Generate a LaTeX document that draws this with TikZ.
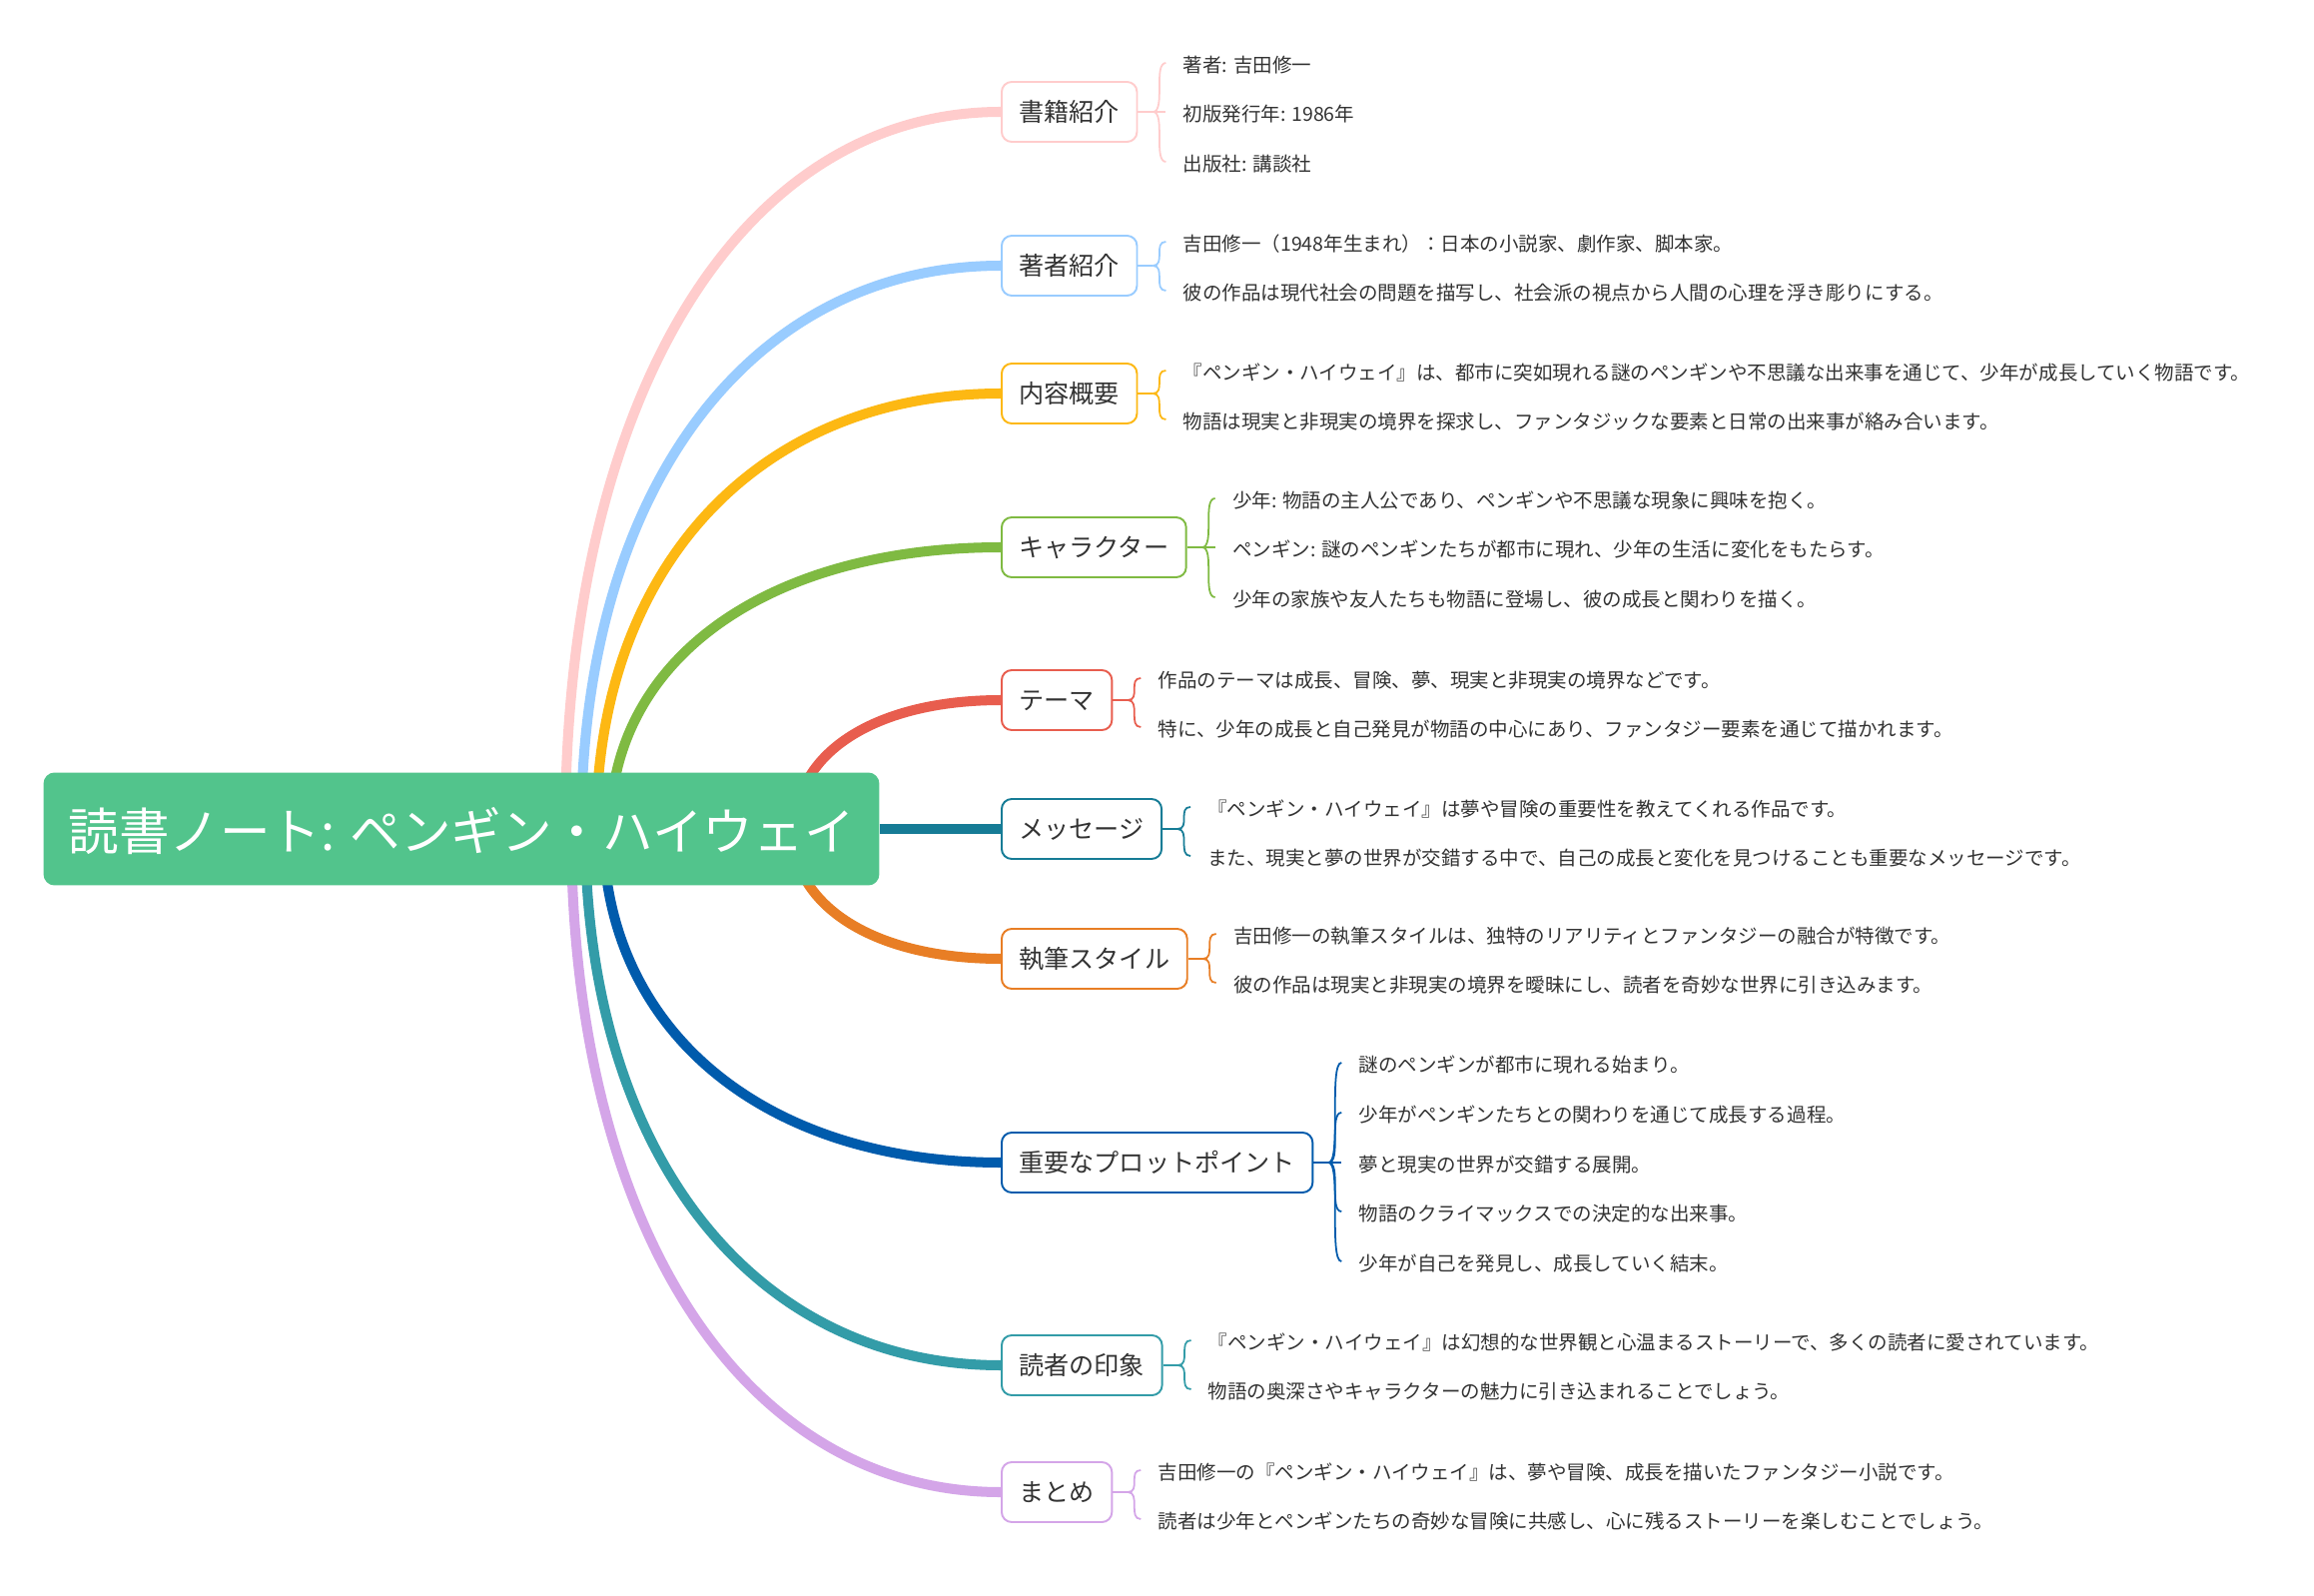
\documentclass[tikz,border=0pt]{standalone}
\usepackage{fontspec}
\setmainfont{Noto Sans CJK JP}
\usepackage{tikz}
\usetikzlibrary{calc, backgrounds}

\definecolor{rootc}{HTML}{52C48C}
\definecolor{txt}{HTML}{333333}
\definecolor{pinkc}{HTML}{FFCCCC}
\definecolor{skyc}{HTML}{99CCFF}
\definecolor{goldc}{HTML}{FDB813}
\definecolor{leafc}{HTML}{7FBA42}
\definecolor{redc}{HTML}{E85D4E}
\definecolor{tealc}{HTML}{167C96}
\definecolor{orangec}{HTML}{E87E25}
\definecolor{navyc}{HTML}{005BAC}
\definecolor{cyanc}{HTML}{339CA8}
\definecolor{lilacc}{HTML}{D4A5E8}

\begin{document}
\begin{tikzpicture}[x=0.02cm, y=-0.02cm,
  root/.style={rectangle, fill=rootc, rounded corners=0.22cm, minimum width=16.74cm, minimum height=2.26cm, text=white, font=\fontsize{28.8}{32}\selectfont, text height=24.4pt, text depth=0pt},
  topic/.style={rectangle, draw=#1, line width=1.1pt, fill=white, rounded corners=0.2cm, anchor=west, minimum height=1.2cm, inner xsep=0.35cm, text=txt, font=\fontsize{14.3}{16}\selectfont, text height=11pt, text depth=0pt},
  leaf/.style={anchor=west, inner xsep=0.34cm, inner ysep=0pt, text=txt, font=\fontsize{11.1}{13}\selectfont, text height=11pt, text depth=0pt},
  branch/.style={line width=5.7pt, draw=#1},
  arm/.style={line width=1pt, draw=#1}
]
\useasboundingbox (0,0) rectangle (2317,1598);
\node[root] (root) at (462,830) {読書ノート: ペンギン・ハイウェイ};
\foreach \i/\y/\c/\t in {1/112/pinkc/書籍紹介, 2/266/skyc/著者紹介, 3/394/goldc/内容概要, 4/548/leafc/キャラクター, 5/701/redc/テーマ, 6/830/tealc/メッセージ, 7/960/orangec/執筆スタイル, 8/1164/navyc/重要なプロットポイント, 9/1367/cyanc/読者の印象, 10/1494/lilacc/まとめ} {
  \node[topic=\c] (c\i) at (1002,\y) {\t};
  \coordinate (j\i) at ([xshift=0.3cm]c\i.east);
  \draw[arm=\c] (c\i.east) -- (j\i);
}

% leaves
\foreach \n/\y/\t in {1/63/著者: 吉田修一, 2/112/初版発行年: 1986年, 3/162/出版社: 講談社} {
  \node[leaf, xshift=0.26cm] (l1\n) at (j1 |- 0,\y) {\t};
  \draw[arm=pinkc] (j1) .. controls +(13,0) and +(-13,0) .. (l1\n.west);
}
\foreach \n/\y/\t in {1/242/吉田修一（1948年生まれ）：日本の小説家、劇作家、脚本家。, 2/291/彼の作品は現代社会の問題を描写し、社会派の視点から人間の心理を浮き彫りにする。} {
  \node[leaf, xshift=0.26cm] (l2\n) at (j2 |- 0,\y) {\t};
  \draw[arm=skyc] (j2) .. controls +(13,0) and +(-13,0) .. (l2\n.west);
}
\foreach \n/\y/\t in {1/371/『ペンギン・ハイウェイ』は、都市に突如現れる謎のペンギンや不思議な出来事を通じて、少年が成長していく物語です。, 2/420/物語は現実と非現実の境界を探求し、ファンタジックな要素と日常の出来事が絡み合います。} {
  \node[leaf, xshift=0.26cm] (l3\n) at (j3 |- 0,\y) {\t};
  \draw[arm=goldc] (j3) .. controls +(13,0) and +(-13,0) .. (l3\n.west);
}
\foreach \n/\y/\t in {1/499/少年: 物語の主人公であり、ペンギンや不思議な現象に興味を抱く。, 2/548/ペンギン: 謎のペンギンたちが都市に現れ、少年の生活に変化をもたらす。, 3/598/少年の家族や友人たちも物語に登場し、彼の成長と関わりを描く。} {
  \node[leaf, xshift=0.26cm] (l4\n) at (j4 |- 0,\y) {\t};
  \draw[arm=leafc] (j4) .. controls +(13,0) and +(-13,0) .. (l4\n.west);
}
\foreach \n/\y/\t in {1/679/作品のテーマは成長、冒険、夢、現実と非現実の境界などです。, 2/728/特に、少年の成長と自己発見が物語の中心にあり、ファンタジー要素を通じて描かれます。} {
  \node[leaf, xshift=0.26cm] (l5\n) at (j5 |- 0,\y) {\t};
  \draw[arm=redc] (j5) .. controls +(13,0) and +(-13,0) .. (l5\n.west);
}
\foreach \n/\y/\t in {1/808/『ペンギン・ハイウェイ』は夢や冒険の重要性を教えてくれる作品です。, 2/857/また、現実と夢の世界が交錯する中で、自己の成長と変化を見つけることも重要なメッセージです。} {
  \node[leaf, xshift=0.26cm] (l6\n) at (j6 |- 0,\y) {\t};
  \draw[arm=tealc] (j6) .. controls +(13,0) and +(-13,0) .. (l6\n.west);
}
\foreach \n/\y/\t in {1/935/吉田修一の執筆スタイルは、独特のリアリティとファンタジーの融合が特徴です。, 2/984/彼の作品は現実と非現実の境界を曖昧にし、読者を奇妙な世界に引き込みます。} {
  \node[leaf, xshift=0.26cm] (l7\n) at (j7 |- 0,\y) {\t};
  \draw[arm=orangec] (j7) .. controls +(13,0) and +(-13,0) .. (l7\n.west);
}
\foreach \n/\y/\t in {1/1064/謎のペンギンが都市に現れる始まり。, 2/1114/少年がペンギンたちとの関わりを通じて成長する過程。, 3/1164/夢と現実の世界が交錯する展開。, 4/1213/物語のクライマックスでの決定的な出来事。, 5/1263/少年が自己を発見し、成長していく結末。} {
  \node[leaf, xshift=0.26cm] (l8\n) at (j8 |- 0,\y) {\t};
  \draw[arm=navyc] (j8) .. controls +(13,0) and +(-13,0) .. (l8\n.west);
}
\foreach \n/\y/\t in {1/1342/『ペンギン・ハイウェイ』は幻想的な世界観と心温まるストーリーで、多くの読者に愛されています。, 2/1391/物語の奥深さやキャラクターの魅力に引き込まれることでしょう。} {
  \node[leaf, xshift=0.26cm] (l9\n) at (j9 |- 0,\y) {\t};
  \draw[arm=cyanc] (j9) .. controls +(13,0) and +(-13,0) .. (l9\n.west);
}
\foreach \n/\y/\t in {1/1472/吉田修一の『ペンギン・ハイウェイ』は、夢や冒険、成長を描いたファンタジー小説です。, 2/1521/読者は少年とペンギンたちの奇妙な冒険に共感し、心に残るストーリーを楽しむことでしょう。} {
  \node[leaf, xshift=0.26cm] (l10\n) at (j10 |- 0,\y) {\t};
  \draw[arm=lilacc] (j10) .. controls +(13,0) and +(-13,0) .. (l10\n.west);
}

% branches behind the root
\begin{scope}[on background layer]
\fill[white] (0,0) rectangle (2317,1598);
\foreach \i/\x/\c in {1/566/pinkc, 2/582/skyc, 3/597/goldc, 4/611/leafc, 5/796/redc, 7/793/orangec, 8/604/navyc, 9/586/cyanc, 10/572/lilacc} {
  \coordinate (s\i) at (\x,830);
  \draw[branch=\c] (s\i) .. controls ($(s\i)!0.6!(s\i |- c\i.west)$) and ($(c\i.west)!0.6!(s\i |- c\i.west)$) .. (c\i.west);
}
\draw[branch=tealc] (root.east) -- (c6.west);
\end{scope}
\end{tikzpicture}
\end{document}
